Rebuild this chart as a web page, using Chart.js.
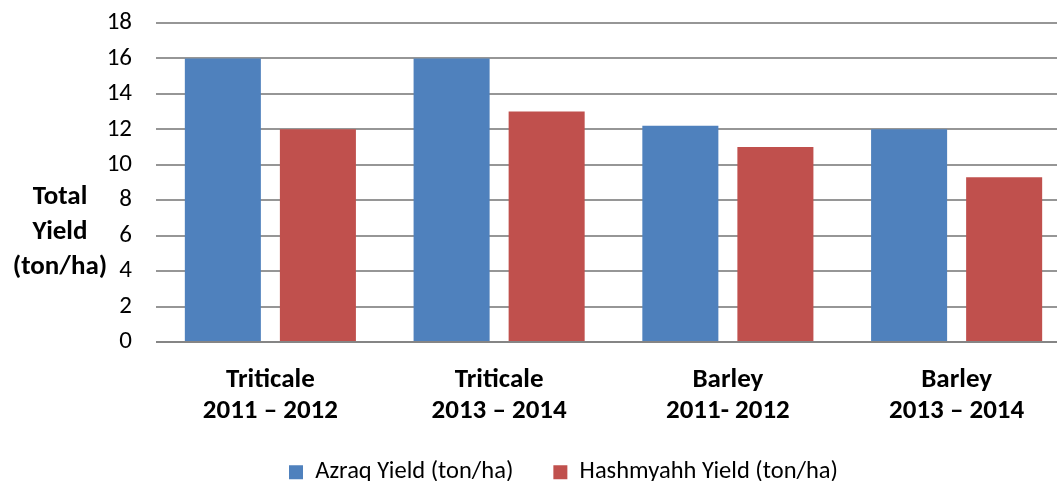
<!DOCTYPE html>
<html>
<head>
<meta charset="utf-8">
<script src="https://cdn.jsdelivr.net/npm/chart.js@4.4.1/dist/chart.umd.min.js"></script>
<style>
  html, body { margin: 0; padding: 0; background: #fff; overflow: hidden; }
  #wrap { width: 1071px; height: 481px; }
</style>
</head>
<body>
<div id="wrap"><canvas id="chart_yield" width="1071" height="481"></canvas></div>
<script>
const categories = [
    ['Triticale', '2011 \u2013 2012'],
    ['Triticale', '2013 \u2013 2014'],
    ['Barley', '2011- 2012'],
    ['Barley', '2013 \u2013 2014']
];
const azraqYield = [16, 16, 12.2, 12];
const hashmyahhYield = [12, 13, 11, 9.3];
const yTicks = [0, 2, 4, 6, 8, 10, 12, 14, 16, 18];
const axisTitleLines = ['Total', 'Yield', '(ton/ha)'];

const FONT = 'Carlito, Calibri, Lato, sans-serif';
const COLORS = {
    blue: '#4F81BD',
    red: '#C0504D',
    grid: '#969696',
};

// y axis title sits horizontally to the left of the ticks
const sideTitle = {
    id: 'sideTitle',
    afterDraw(chart) {
        const c = chart.ctx;
        c.save();
        c.font = 'bold 27px ' + FONT;
        c.fillStyle = '#000';
        c.textAlign = 'center';
        c.textBaseline = 'middle';
        const ys = [197, 232, 267];
        axisTitleLines.forEach((t, i) => c.fillText(t, 60, ys[i]));
        c.restore();
    }
};

// move the legend to where excel put it
const legendPlace = {
    id: 'legendPlace',
    afterLayout(chart) {
        const lg = chart.legend;
        const pad = lg.options.labels.padding;
        lg.left += 28;
        lg.right += 28;
        lg.top = 475 - 15 - pad;
    }
};

const ctx = document.getElementById('chart_yield');

new Chart(ctx, {
    type: 'bar',
    data: {
        labels: categories,
        datasets: [
            {
                label: 'Azraq Yield (ton/ha)',
                data: azraqYield,
                backgroundColor: COLORS.blue,
            },
            {
                label: 'Hashmyahh Yield (ton/ha)',
                data: hashmyahhYield,
                backgroundColor: COLORS.red,
            }
        ]
    },
    options: {
        responsive: false,
        animation: false,
        categoryPercentage: 0.831,
        barPercentage: 0.8,
        layout: {
            padding: { top: 23, left: 0, right: 0, bottom: 0 }
        },
        plugins: {
            title: { display: false },
            tooltip: { enabled: false },
            legend: {
                position: 'bottom',
                maxHeight: 27,
                labels: {
                    boxWidth: 14,
                    boxHeight: 14,
                    padding: 40,
                    color: '#000',
                    font: { family: FONT, size: 24.5 },
                }
            }
        },
        scales: {
            x: {
                grid: { display: false, drawTicks: false },
                border: { display: false },
                ticks: {
                    padding: 23,
                    color: '#000',
                    font: { family: FONT, size: 27, weight: 'bold', lineHeight: 1.15 },
                },
                afterFit(scale) { scale.height = 112; }
            },
            y: {
                min: 0,
                max: 18,
                afterBuildTicks(scale) { scale.ticks = yTicks.map(v => ({ value: v })); },
                grid: {
                    drawTicks: false,
                    lineWidth: 2,
                    color: c => c.tick && c.tick.value === 0 ? '#858585' : COLORS.grid,
                },
                border: { display: false },
                ticks: {
                    padding: 24,
                    color: '#000',
                    font: { family: FONT, size: 25 },
                },
                afterFit(scale) {
                    scale.width = 156;
                    scale.paddingTop = 0;
                    scale.paddingBottom = 0;
                }
            }
        }
    },
    plugins: [sideTitle, legendPlace]
});
</script>
</body>
</html>
